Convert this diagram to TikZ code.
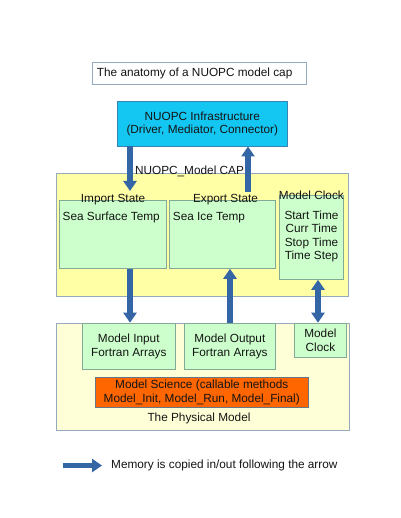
\documentclass[tikz,border=0pt]{standalone}
\usepackage{fontspec}
\setmainfont{Liberation Sans}
\usetikzlibrary{arrows.meta}
\definecolor{cyanfill}{RGB}{20,198,242}
\definecolor{cyanline}{RGB}{60,130,180}
\definecolor{capfill}{RGB}{255,255,166}
\definecolor{physfill}{RGB}{255,255,215}
\definecolor{greenfill}{RGB}{204,255,204}
\definecolor{greenline}{RGB}{130,170,150}
\definecolor{orangefill}{RGB}{255,102,0}
\definecolor{boxline}{RGB}{150,170,190}
\definecolor{arrowblue}{RGB}{52,101,164}
\definecolor{txt}{RGB}{20,20,20}
\tikzset{
  box/.style={draw=boxline, line width=0.8pt, anchor=north west, inner sep=0pt},
  greenbox/.style={box, draw=greenline, fill=greenfill},
  lbl/.style={inner sep=0pt, text=txt, font=\fontsize{11.8}{13.5}\selectfont, align=center},
  memarrow/.style={draw=arrowblue, line width=5.5pt, -{Triangle[width=13pt,length=10pt]}},
  dblarrow/.style={draw=arrowblue, line width=5.5pt, {Triangle[width=13pt,length=10pt]}-{Triangle[width=13pt,length=10pt]}}
}
\begin{document}
\begin{tikzpicture}[x=1pt,y=-1pt]
\useasboundingbox[fill=white] (0,0) rectangle (400,518);
% title
\node[box, minimum width=214.3pt, minimum height=22.6pt] (title) at (91.7,61.7) {};
\node[lbl, anchor=west] (titletxt) at (96.7,73.5) {The anatomy of a NUOPC model cap};
% infrastructure
\node[box, draw=cyanline, fill=cyanfill, minimum width=169.7pt, minimum height=44.7pt] (infra) at (117,101) {};
\node[lbl] (infratxt) at (infra.center) {NUOPC Infrastructure\\(Driver, Mediator, Connector)};
% CAP
\node[box, fill=capfill, minimum width=292pt, minimum height=123.3pt] (cap) at (56,172.7) {};
\node[lbl] (captxt) at (189.5,171) {NUOPC\_Model CAP};
\node[greenbox, minimum width=106.7pt, minimum height=68pt] (imp) at (59.3,200) {};
\node[lbl] (imptxt) at (imp.north) {Import State};
\node[lbl, anchor=west] (sst) at (62.5,217.5) {Sea Surface Temp};
\node[greenbox, minimum width=105.7pt, minimum height=68pt] (exp) at (169.3,200) {};
\node[lbl] (exptxt) at ([xshift=3pt]exp.north) {Export State};
\node[lbl, anchor=west] (sit) at (172.7,217.5) {Sea Ice Temp};
\node[greenbox, minimum width=64pt, minimum height=84pt] (clk) at (279,195) {};
\node[lbl] (clktxt) at (clk.north) {Model Clock};
\node[lbl] (clklines) at (311.5,236.5) {Start Time\\Curr Time\\Stop Time\\Time Step};
% physical model
\node[box, fill=physfill, minimum width=292.5pt, minimum height=107.3pt] (phys) at (56,322.7) {};
\node[greenbox, minimum width=93.3pt, minimum height=46.3pt] (pin) at (81.7,322.7) {};
\node[lbl] (pintxt) at (pin.center) {Model Input\\Fortran Arrays};
\node[greenbox, minimum width=91pt, minimum height=46.3pt] (pout) at (184,322.7) {};
\node[lbl] (pouttxt) at (pout.center) {Model Output\\Fortran Arrays};
\node[greenbox, minimum width=52pt, minimum height=34.3pt] (pclk) at (294,322.7) {};
\node[lbl] (pclktxt) at (pclk.center) {Model\\Clock};
\node[box, draw=boxline!70!black, fill=orangefill, minimum width=212.7pt, minimum height=30pt] (sci) at (95,377) {};
\node[lbl] (scitxt) at (sci.center) {Model Science (callable methods\\Model\_Init, Model\_Run, Model\_Final)};
\node[lbl] (phystxt) at (199,418) {The Physical Model};
% arrows
\coordinate (xa) at (130,0);
\coordinate (xb) at (248,0);
\coordinate (xc) at (230,0);
\coordinate (xd) at (318,0);
\draw[memarrow, shorten >=9pt] (xa |- infra.south) -- (xa |- imp.north);
\draw[memarrow, shorten <=8pt] (xb |- exp.north) -- (xb |- infra.south);
\draw[memarrow] (xa |- imp.south) -- (xa |- pin.north);
\draw[memarrow] (xc |- pout.north) -- (xc |- exp.south);
\draw[dblarrow] (xd |- clk.south) -- (xd |- pclk.north);
% legend
\coordinate (l1) at (63,465.5);
\coordinate (l2) at (102,465.5);
\draw[memarrow] (l1) -- (l2);
\node[lbl, anchor=west] (legtxt) at (111,465.5) {Memory is copied in/out following the arrow};
\end{tikzpicture}
\end{document}
